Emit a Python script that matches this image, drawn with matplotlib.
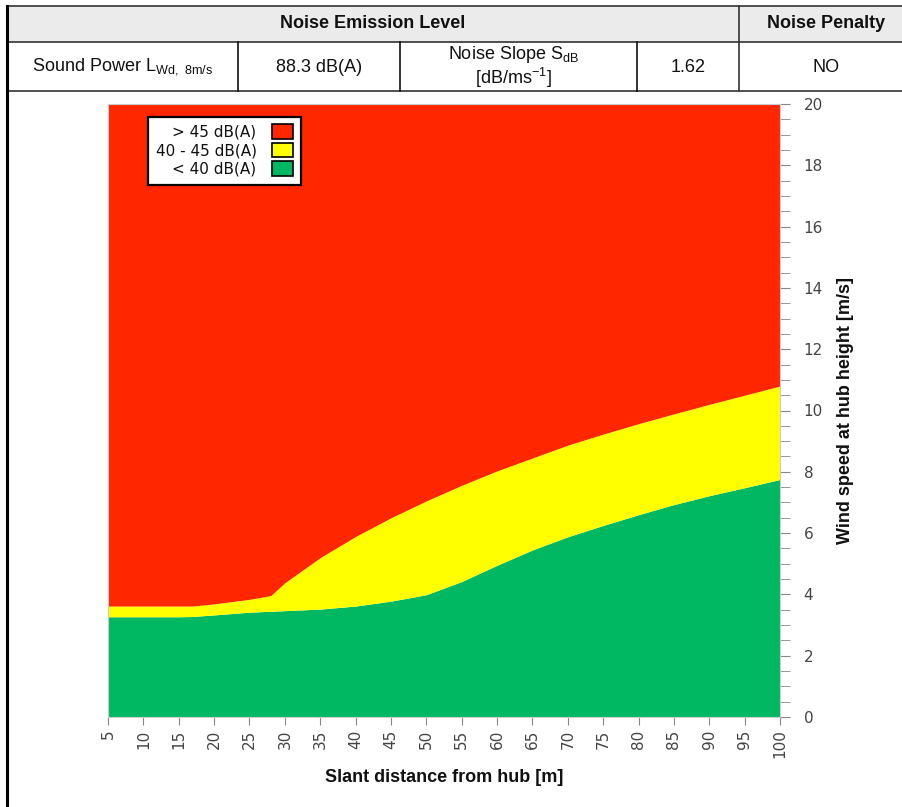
import matplotlib
matplotlib.use("Agg")
import matplotlib.pyplot as plt
from matplotlib.patches import Patch, Rectangle
from matplotlib.lines import Line2D
from matplotlib.ticker import MultipleLocator

#%% DATA
dist = [5, 10, 15, 17, 20, 25, 28, 30, 35, 40, 45, 50, 55, 60, 65, 70, 75, 80, 85, 90, 95, 100]
lim_45 = [3.62, 3.62, 3.62, 3.62, 3.69, 3.84, 3.96, 4.38, 5.2, 5.89, 6.5, 7.05, 7.56, 8.03,
          8.45, 8.87, 9.23, 9.57, 9.89, 10.2, 10.5, 10.8]
lim_40 = [3.27, 3.27, 3.27, 3.28, 3.33, 3.42, 3.45, 3.47, 3.52, 3.62, 3.78, 3.99, 4.42, 4.95,
          5.45, 5.88, 6.25, 6.6, 6.93, 7.22, 7.48, 7.75]
classes = ['> 45 dB(A)', '40 - 45 dB(A)', '< 40 dB(A)']
colores = ['#ff2600', '#ffff00', '#00b862']

x_ticks = list(range(5, 101, 5))
y_ticks = list(range(0, 21, 2))

# table texts
hdr_cells = ['Noise Emission Level', 'Noise Penalty']
row_cells = [r'Sound Power L$_{\mathrm{Wd,\ 8m/s}}$', '88.3 dB(A)',
             'Noise Slope S$_{\\mathrm{dB}}$\n[dB/ms$^{\\mathrm{-1}}$]', '1.62', 'NO']

#%% FIGURE
plt.rcParams['mathtext.fontset'] = 'custom'
plt.rcParams['mathtext.rm'] = 'Liberation Sans'
W, H = 902, 807
fig = plt.figure(figsize=(W / 100, H / 100), dpi=100)

def fx(px):
    return px / W

def fy(py):
    return 1 - py / H

# table
fig.add_artist(Rectangle((fx(7), fy(42)), fx(902 - 7), fy(6) - fy(42), transform=fig.transFigure,
                         facecolor='#ebebeb', edgecolor='none'))
for y in [6, 42, 91]:
    fig.add_artist(Line2D([fx(7), 1], [fy(y), fy(y)], transform=fig.transFigure, color='#333333', lw=1.2))
for xv in [238, 400, 637]:
    fig.add_artist(Line2D([fx(xv), fx(xv)], [fy(42), fy(91)], transform=fig.transFigure, color='#111111', lw=1.2))
fig.add_artist(Line2D([fx(739), fx(739)], [fy(6), fy(91)], transform=fig.transFigure, color='#333333', lw=1.2))
fig.add_artist(Line2D([fx(7), fx(7)], [fy(6), 0], transform=fig.transFigure, color='black', lw=2.2))

tfont = dict(family='Liberation Sans', fontsize=13, color='#111111', ha='center', va='center')
fig.text(fx(373), fy(23), hdr_cells[0], fontweight='bold', **tfont)
fig.text(fx(826), fy(23), hdr_cells[1], fontweight='bold', **tfont)
cx = [123, 319, 513, 688, 826]
for c, t in zip(cx, row_cells):
    fig.text(fx(c), fy(67), t, linespacing=1.0, **tfont)

#%% CHART
ax = fig.add_axes([fx(108), fy(717), fx(780) - fx(108), fy(104) - fy(717)])
ax.fill_between(dist, 0, lim_40, color=colores[2], lw=0)
ax.fill_between(dist, lim_40, lim_45, color=colores[1], lw=0)
ax.fill_between(dist, lim_45, 20, color=colores[0], lw=0)
ax.set_xlim(5, 100)
ax.set_ylim(0, 20)

ax.yaxis.tick_right()
ax.yaxis.set_label_position('right')
ax.set_xticks(x_ticks)
ax.set_xticklabels([str(v) for v in x_ticks], rotation=90)
ax.set_yticks(y_ticks)
ax.yaxis.set_minor_locator(MultipleLocator(0.5))
ax.tick_params(axis='both', which='both', colors='#888888', labelcolor='#444444', labelsize=11)
ax.tick_params(axis='x', length=6, pad=3)
ax.tick_params(axis='y', which='major', length=7, pad=10)
ax.tick_params(axis='y', which='minor', length=7)
for s in ax.spines.values():
    s.set_color('#cccccc')
    s.set_linewidth(0.8)

lab_font = dict(family=['Liberation Sans Narrow', 'Liberation Sans'], fontsize=13, fontweight='bold', color='#111111')
ax.set_xlabel('Slant distance from hub [m]', labelpad=8, **lab_font)
ax.set_ylabel('Wind speed at hub height [m/s]', labelpad=10, **lab_font)

handles = [Patch(facecolor=c, edgecolor='black', lw=1.2) for c in colores]
leg = ax.legend(handles, classes, loc='upper left', bbox_to_anchor=(0.048, 0.992), markerfirst=False,
                fancybox=False, framealpha=1, edgecolor='black', handlelength=1.4,
                handleheight=1.1, labelspacing=0.2, borderpad=0.5, handletextpad=1.0,
                prop={'family': 'DejaVu Sans', 'size': 11})
leg.get_frame().set_linewidth(1.6)
for t in leg.get_texts():
    t.set_color('#111111')

fig.savefig('out.png', dpi=100)
